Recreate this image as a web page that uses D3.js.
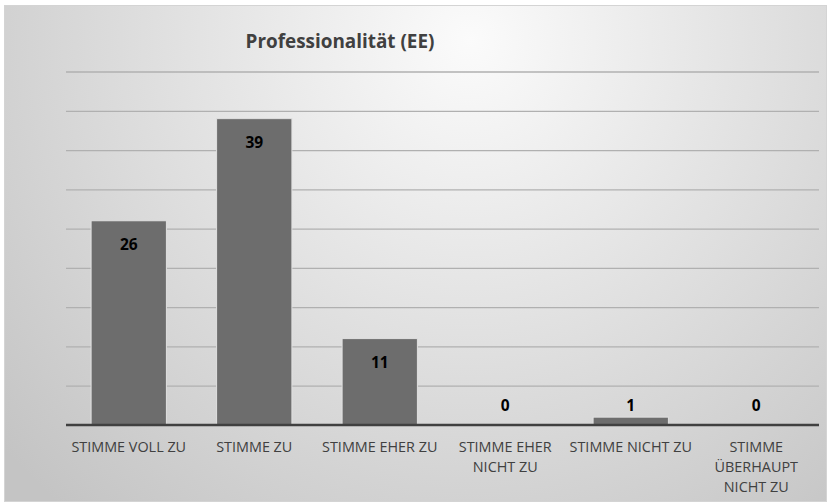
<!DOCTYPE html>
<html><head><meta charset="utf-8">
<script src="https://cdn.jsdelivr.net/npm/d3@7"></script>
<style>body{margin:0;background:#fff}svg{display:block}</style>
</head><body>
<svg id="c" width="827" height="503"></svg>
<script>
const title = "Professionalität (EE)";
const categories = ["STIMME VOLL ZU","STIMME ZU","STIMME EHER ZU","STIMME EHER NICHT ZU","STIMME NICHT ZU","STIMME ÜBERHAUPT NICHT ZU"];
const tickLines = [["STIMME VOLL ZU"],["STIMME ZU"],["STIMME EHER ZU"],["STIMME EHER","NICHT ZU"],["STIMME NICHT ZU"],["STIMME","ÜBERHAUPT","NICHT ZU"]];
const values = [26,39,11,0,1,0];
const yTicks = [0,5,10,15,20,25,30,35,40,45];

const svg = d3.select("#c");
const defs = svg.append("defs");
const g = defs.append("radialGradient").attr("id","bg")
  .attr("gradientUnits","userSpaceOnUse").attr("cx",470).attr("cy",40).attr("r",620);
g.append("stop").attr("offset","0").attr("stop-color","#fbfbfb");
g.append("stop").attr("offset","1").attr("stop-color","#c4c4c4");

svg.append("rect").attr("x",4.5).attr("y",5.5).attr("width",822).attr("height",496)
  .attr("fill","url(#bg)").attr("stroke","#d4d4d4").attr("stroke-width",1);

const x = d3.scaleBand().domain(categories).range([66,819]).paddingInner(0.4).paddingOuter(0.2);
const y = d3.scaleLinear().domain([0,45]).range([425,71.5]);

const font = "Open Sans, sans-serif";

// gridlines
const grid = svg.append("g")
  .call(d3.axisLeft(y).tickValues(yTicks.slice(1)).tickSize(-(819-66)).tickFormat(""))
  .attr("transform","translate(66,0)");
grid.select(".domain").remove();
grid.selectAll("line").attr("stroke","#b0b0b0").attr("stroke-width",1.3);

// bars
svg.append("g").selectAll("rect").data(values).join("rect")
  .attr("x",(d,i)=>x(categories[i]))
  .attr("y",d=>y(d))
  .attr("width",x.bandwidth())
  .attr("height",d=>y(0)-y(d))
  .attr("fill","#6d6d6d").attr("stroke","#e0e0e0").attr("stroke-width",1)
  .attr("display",d=>d>0?null:"none");

// baseline axis
const xa = svg.append("g").attr("transform",`translate(0,${y(0)})`)
  .call(d3.axisBottom(x).tickSize(0).tickFormat(""));
xa.select(".domain").attr("stroke","#404040").attr("stroke-width",2.5).attr("d","M66,0H819");

// tick labels
const tl = svg.append("g").selectAll("text").data(categories).join("text")
  .attr("x",d=>x(d)+x.bandwidth()/2)
  .attr("y",452)
  .attr("text-anchor","middle")
  .attr("font-family",font).attr("font-size",14.4).attr("fill","#404040");
tl.each(function(d,i){
  d3.select(this).selectAll("tspan").data(tickLines[i]).join("tspan")
    .attr("x",x(d)+x.bandwidth()/2).attr("dy",(t,j)=>j===0?0:20).text(t=>t);
});

// value labels
svg.append("g").selectAll("text").data(values).join("text")
  .attr("x",(d,i)=>x(categories[i])+x.bandwidth()/2)
  .attr("y",d=>Math.min(y(d)+24, y(0)-20)+5.5)
  .attr("text-anchor","middle")
  .attr("font-family",font).attr("font-weight","bold").attr("font-size",15.5).attr("fill","#000")
  .text(d=>d);

// title
svg.append("text").attr("x",340).attr("y",48).attr("text-anchor","middle")
  .attr("font-family",font).attr("font-weight","bold").attr("font-size",18.9).attr("fill","#404040")
  .text(title);
</script>
</body></html>
